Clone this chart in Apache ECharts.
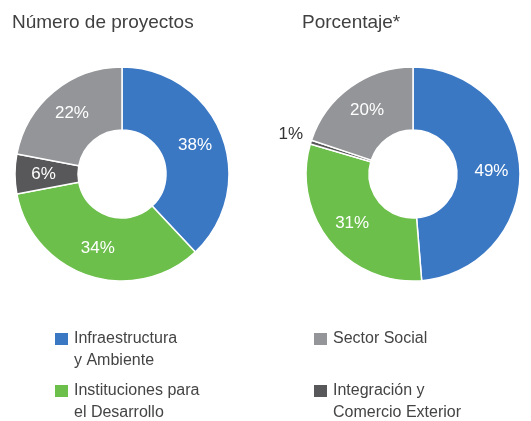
<!DOCTYPE html>
<html>
<head>
<meta charset="utf-8">
<script src="https://cdn.jsdelivr.net/npm/echarts@6/dist/echarts.min.js"></script>
<style>
  html, body { margin: 0; padding: 0; background: #fff; }
  #chart { width: 531px; height: 421px; }
</style>
</head>
<body>
<div id="chart"></div>
<script>
// datos
var categorias = ['Infraestructura y Ambiente', 'Instituciones para el Desarrollo', 'Integración y Comercio Exterior', 'Sector Social'];
var etiquetasLeyenda = ['Infraestructura\ny Ambiente', 'Instituciones para\nel Desarrollo', 'Integración y\nComercio Exterior', 'Sector Social'];
var colores = ['#3b78c4', '#6cbf4a', '#58585a', '#939598'];
var numeroProyectos = [38, 34, 6, 22];
var porcentaje = [49, 31, 0.6, 20];

var fuente = 'Liberation Sans, Arial, sans-serif';
var chart = echarts.init(document.getElementById('chart'));

function datosPie(valores) {
    return valores.map(function (v, i) {
        var item = { name: categorias[i], value: v, itemStyle: { color: colores[i] } };
        // la porción muy pequeña lleva la etiqueta fuera
        if (v < 2) {
            item.label = { position: 'outside', color: '#333' };
            item.labelLine = { show: false, length: 3, length2: 0 };
        }
        return item;
    });
}

function serie(valores, cx) {
    return {
        type: 'pie',
        radius: [44, 107],
        center: [cx, 174],
        startAngle: 90,
        clockwise: true,
        avoidLabelOverlap: false,
        silent: true,
        itemStyle: { borderColor: '#fff', borderWidth: 1.5 },
        label: {
            show: true,
            position: 'inside',
            color: '#fff',
            fontFamily: fuente,
            fontSize: 17,
            formatter: function (p) { return Math.round(p.value) + '%'; }
        },
        labelLayout: function (params) {
            return valores[params.dataIndex] < 2 ? { dy: -7 } : {};
        },
        data: datosPie(valores)
    };
}

function leyenda(idx, left, top) {
    var texto = etiquetasLeyenda[idx];
    // línea vacía delante para que el cuadro quede junto a la primera línea
    if (texto.indexOf('\n') >= 0) texto = ' \n' + texto;
    return {
        data: [categorias[idx]],
        left: left,
        top: top,
        padding: 0,
        icon: 'rect',
        itemWidth: 15,
        itemHeight: 14,
        selectedMode: false,
        formatter: function () { return texto; },
        textStyle: {
            color: '#444',
            fontFamily: fuente,
            fontSize: 16,
            lineHeight: 22
        }
    };
}

var option = {
    animation: false,
    title: [
        { text: 'Número de proyectos', left: 12, top: 13, padding: 0, textStyle: { color: '#404040', fontFamily: fuente, fontSize: 19, fontWeight: 'normal' } },
        { text: 'Porcentaje*', left: 302, top: 13, padding: 0, textStyle: { color: '#404040', fontFamily: fuente, fontSize: 19, fontWeight: 'normal' } }
    ],
    legend: [
        leyenda(0, 53, 306),
        leyenda(1, 53, 358),
        leyenda(3, 312, 328),
        leyenda(2, 312, 358)
    ],
    series: [
        serie(numeroProyectos, 122),
        serie(porcentaje, 413)
    ]
};

chart.setOption(option);
</script>
</body>
</html>
